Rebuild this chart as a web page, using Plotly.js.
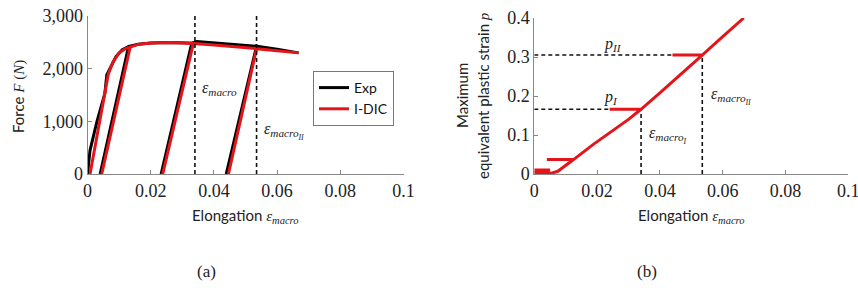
<!DOCTYPE html>
<html>
<head>
<meta charset="utf-8">
<script src="https://cdn.plot.ly/plotly-3.0.1.min.js"></script>
<style>html,body{margin:0;padding:0;background:#fff}#chart{width:858px;height:288px}</style>
</head>
<body>
<div id="chart"></div>
<script>
// ---- Data ----
// (a) Force vs elongation
var expX = [0, 0.0008, 0.003, 0.0055, 0.0061, 0.0075, 0.0090, 0.0110, 0.0130, 0.0040, 0.0130, 0.0160, 0.0200, 0.0260, 0.0300, 0.0330, 0.0233, 0.0330, 0.0346, 0.0400, 0.0460, 0.0510, 0.0535, 0.0439, 0.0535, 0.0600, 0.0668];
var expF = [0, 450, 1000, 1530, 1880, 2050, 2230, 2360, 2420, 0, 2420, 2465, 2485, 2495, 2490, 2485, 0, 2485, 2515, 2490, 2465, 2440, 2425, 0, 2425, 2370, 2300];
var dicX = [0.0008, 0.0066, 0.0080, 0.0100, 0.0120, 0.0135, 0.0045, 0.0135, 0.0160, 0.0200, 0.0260, 0.0300, 0.0335, 0.0238, 0.0335, 0.0400, 0.0460, 0.0535, 0.0446, 0.0535, 0.0600, 0.0668];
var dicF = [0, 1900, 2120, 2300, 2380, 2410, 0, 2410, 2460, 2485, 2495, 2490, 2480, 0, 2480, 2450, 2420, 2380, 0, 2380, 2340, 2300];
// (b) Maximum equivalent plastic strain vs elongation
var pX = [0, 0.005, 0, 0.0055, 0.0075, 0.0100, 0.0125, 0.004, 0.0125, 0.0188, 0.0262, 0.030, 0.034, 0.024, 0.034, 0.040, 0.0464, 0.0535, 0.044, 0.0535, 0.060, 0.0667];
var pY = [0.010, 0.010, 0.003, 0.002, 0.007, 0.021, 0.037, 0.037, 0.037, 0.076, 0.117, 0.140, 0.166, 0.166, 0.166, 0.208, 0.254, 0.305, 0.305, 0.305, 0.352, 0.400];
// reference points
var refEps = [0.034, 0.0535];
var refP = [0.166, 0.305];
// ticks
var xTicks = [0, 0.02, 0.04, 0.06, 0.08, 0.1];
var xTickText = ["0", "0.02", "0.04", "0.06", "0.08", "0.1"];
var fTicks = [0, 1000, 2000, 3000];
var fTickText = ["0", "1,000", "2,000", "3,000"];
var pTicks = [0, 0.1, 0.2, 0.3, 0.4];
var pTickText = ["0", "0.1", "0.2", "0.3", "0.4"];

var RED = "#e3151b";
var SERIF = "'Liberation Serif', serif";
var SANS = "Lato, sans-serif";
var EPS = "<span style=\"font-family:'Liberation Serif'\"><i>ε</i><sub><i>macro</i></sub></span>";
function epsSub(s){ return "<span style=\"font-family:'Liberation Serif'\"><i>ε</i><sub><i>macro</i><sub><i>" + s + "</i></sub></sub></span>"; }
function pSub(s){ return "<span style=\"font-family:'Liberation Serif'\"><i>p</i><sub><i>" + s + "</i></sub></span>"; }

var traces = [
  {x: expX, y: expF, xaxis: 'x', yaxis: 'y', mode: 'lines', name: 'Exp', line: {color: '#000', width: 3}},
  {x: dicX, y: dicF, xaxis: 'x', yaxis: 'y', mode: 'lines', name: 'I-DIC', line: {color: RED, width: 3}},
  {x: pX, y: pY, xaxis: 'x2', yaxis: 'y2', mode: 'lines', name: 'p', showlegend: false, line: {color: RED, width: 3}}
];

var dash = {color: '#111', width: 1.6, dash: '4px,3px'};
var shapes = [];
refEps.forEach(function(e){
  shapes.push({type: 'line', xref: 'x', yref: 'y', x0: e, x1: e, y0: 0, y1: 3000, line: dash, layer: 'above'});
});
refEps.forEach(function(e, i){
  shapes.push({type: 'line', xref: 'x2', yref: 'y2', x0: e, x1: e, y0: 0, y1: refP[i], line: dash, layer: 'below'});
  shapes.push({type: 'line', xref: 'x2', yref: 'y2', x0: 0, x1: e, y0: refP[i], y1: refP[i], line: dash, layer: 'below'});
});

var axBase = {
  showgrid: false, zeroline: false, showline: true, linecolor: '#888', linewidth: 1,
  ticks: 'inside', ticklen: 4, tickcolor: '#888', tickwidth: 1, ticklabeloverflow: 'allow',
  tickfont: {family: SERIF, size: 18, color: '#222'}, tickmode: 'array', fixedrange: true
};
function ax(extra){ var o = {}; for (var k in axBase) o[k] = axBase[k]; for (var k2 in extra) o[k2] = extra[k2]; return o; }

function pa(x, y, text, extra){
  var o = {xref: 'paper', yref: 'paper', x: x/858, y: 1-y/288, xanchor: 'center', yanchor: 'middle', text: text, showarrow: false,
           font: {family: SANS, size: 15, color: '#222'}};
  for (var k in (extra||{})) o[k] = extra[k];
  return o;
}
function da(xr, yr, x, y, text){
  return {xref: xr, yref: yr, x: x, y: y, xanchor: 'left', yanchor: 'middle', text: text, showarrow: false,
          font: {family: SERIF, size: 16, color: '#222'}};
}

var ann = [
  pa(245, 216, 'Elongation ' + EPS),
  pa(691, 216, 'Elongation ' + EPS),
  pa(18, 97, "Force <span style=\"font-family:'Liberation Serif'\"><i>F</i> (<i>N</i>)</span>", {textangle: -90}),
  pa(462, 96, 'Maximum', {textangle: -90}),
  pa(483, 96, "equivalent plastic strain <span style=\"font-family:'Liberation Serif'\"><i>p</i></span>", {textangle: -90}),
  da('x', 'y', 0.0357, 1633, EPS),
  da('x', 'y', 0.0553, 816, epsSub('II')),
  da('x2', 'y2', 0.0217, 0.195, pSub('I')),
  da('x2', 'y2', 0.0217, 0.331, pSub('II')),
  da('x2', 'y2', 0.0358, 0.10, epsSub('I')),
  da('x2', 'y2', 0.0557, 0.20, epsSub('II')),
  pa(206, 271, '(a)', {font: {family: SERIF, size: 17, color: '#222'}}),
  pa(647, 271, '(b)', {font: {family: SERIF, size: 17, color: '#222'}})
];

var layout = {
  width: 858, height: 288,
  margin: {l: 0, r: 0, t: 0, b: 0},
  paper_bgcolor: '#fff', plot_bgcolor: '#fff',
  showlegend: true,
  legend: {x: 313/858, y: 1-71/288, xanchor: 'left', yanchor: 'top', bgcolor: '#fff', bordercolor: '#777', borderwidth: 1,
           font: {family: SANS, size: 14, color: '#111'}, itemwidth: 30, tracegroupgap: 0},
  xaxis: ax({domain: [87.5/858, 403.5/858], range: [0, 0.1], tickvals: xTicks, ticktext: xTickText, anchor: 'y'}),
  yaxis: ax({domain: [1-174/288, 1-16/288], range: [0, 3000], tickvals: fTicks, ticktext: fTickText, anchor: 'x'}),
  xaxis2: ax({domain: [534.3/858, 848.3/858], range: [0, 0.1], tickvals: xTicks, ticktext: xTickText, anchor: 'y2'}),
  yaxis2: ax({domain: [1-174/288, 1-18/288], range: [0, 0.4], tickvals: pTicks, ticktext: pTickText, anchor: 'x2'}),
  shapes: shapes,
  annotations: ann
};

Plotly.newPlot('chart', traces, layout, {displayModeBar: false, staticPlot: true});
</script>
</body>
</html>
